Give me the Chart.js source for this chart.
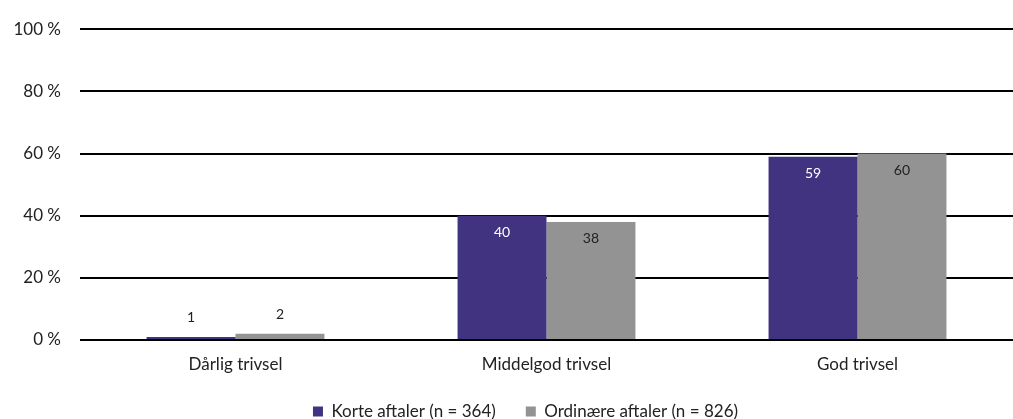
<!DOCTYPE html>
<html>
<head>
<meta charset="utf-8">
<script src="https://cdn.jsdelivr.net/npm/chart.js@4/dist/chart.umd.min.js"></script>
<style>
  html, body { margin: 0; padding: 0; background: #fff; }
  #wrap { width: 1013px; height: 419px; }
</style>
</head>
<body>
<div id="wrap"><canvas id="chart"></canvas></div>
<script>
// Data
const categories = ['Dårlig trivsel', 'Middelgod trivsel', 'God trivsel'];
const korteValues = [1, 40, 59];
const ordinaereValues = [2, 38, 60];
const seriesLabels = ['Korte aftaler (n = 364)', 'Ordinære aftaler (n = 826)'];
const yTicks = [0, 20, 40, 60, 80, 100];

const FONT = 'Lato';

// Værdier på søjlerne
const barLabels = {
    id: 'barLabels',
    afterDatasetsDraw(chart) {
        const ctx = chart.ctx;
        ctx.save();
        ctx.font = '14px ' + FONT;
        ctx.textAlign = 'center';
        ctx.textBaseline = 'middle';
        chart.data.datasets.forEach((ds, i) => {
            const meta = chart.getDatasetMeta(i);
            meta.data.forEach((bar, j) => {
                const v = ds.data[j];
                let y;
                if (v < 10) {
                    y = bar.y - 19;
                    ctx.fillStyle = '#222';
                } else {
                    y = bar.y + 17;
                    ctx.fillStyle = i === 0 ? '#ffffff' : '#222';
                }
                ctx.fillText(String(v), bar.x, y);
            });
        });
        ctx.restore();
    }
};

// Legenden lidt op og til højre
const legendNudge = {
    id: 'legendNudge',
    afterLayout(chart) {
        const lg = chart.legend;
        if (lg) {
            lg.top -= 3;
            lg.bottom -= 3;
            lg.left += 14;
            lg.right += 14;
        }
    }
};

new Chart(document.getElementById('chart'), {
    type: 'bar',
    data: {
        labels: categories,
        datasets: [{
            label: seriesLabels[0],
            data: korteValues,
            backgroundColor: '#41337f',
            categoryPercentage: 0.572,
            barPercentage: 1.0
        }, {
            label: seriesLabels[1],
            data: ordinaereValues,
            backgroundColor: '#939393',
            categoryPercentage: 0.572,
            barPercentage: 1.0
        }]
    },
    options: {
        responsive: true,
        maintainAspectRatio: false,
        animation: false,
        layout: { padding: { top: 27, right: -10, left: 0, bottom: -14 } },
        scales: {
            y: {
                min: 0,
                max: 100,
                afterFit: s => { s.width = 80; },
                afterBuildTicks: s => { s.ticks = yTicks.map(v => ({ value: v })); },
                ticks: {
                    color: '#222',
                    font: { family: FONT, size: 17 },
                    padding: 19,
                    callback: v => v + ' %'
                },
                grid: { color: '#000', lineWidth: 2, drawTicks: false },
                border: { display: false }
            },
            x: {
                afterFit: s => { s.height = 36; },
                ticks: {
                    color: '#222',
                    font: { family: FONT, size: 17 },
                    padding: 14
                },
                grid: { display: false, drawTicks: false },
                border: { display: false }
            }
        },
        plugins: {
            legend: {
                position: 'bottom',
                labels: {
                    color: '#222',
                    font: { family: FONT, size: 17 },
                    boxWidth: 10,
                    boxHeight: 10,
                    padding: 30
                }
            },
            tooltip: { enabled: false }
        }
    },
    plugins: [barLabels, legendNudge]
});
</script>
</body>
</html>
